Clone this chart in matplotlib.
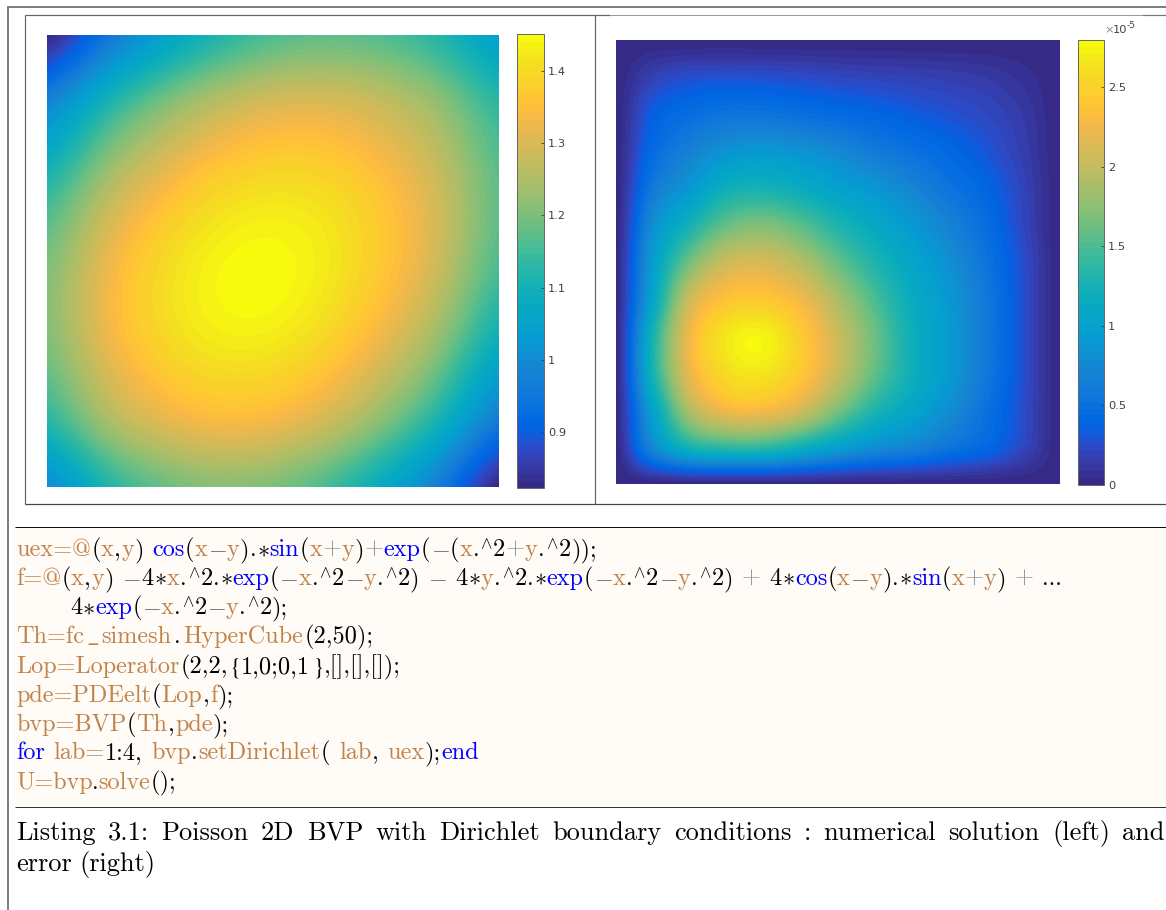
import warnings
import numpy as np
import matplotlib
matplotlib.use("Agg")
import matplotlib.pyplot as plt
from matplotlib.colors import ListedColormap, Normalize
from matplotlib.patches import Rectangle

warnings.filterwarnings("ignore")

# ---- values ------------------------------------------------------------
# numerical solution, rows bottom -> top, columns left -> right
solution = [
    [1.000, 1.108, 1.179, 1.210, 1.200, 1.151, 1.069, 0.957, 0.823],
    [1.108, 1.217, 1.288, 1.320, 1.311, 1.264, 1.183, 1.074, 0.941],
    [1.179, 1.288, 1.362, 1.397, 1.392, 1.350, 1.274, 1.169, 1.040],
    [1.210, 1.320, 1.397, 1.436, 1.438, 1.403, 1.335, 1.237, 1.115],
    [1.200, 1.311, 1.392, 1.438, 1.448, 1.422, 1.363, 1.275, 1.162],
    [1.151, 1.264, 1.350, 1.403, 1.422, 1.407, 1.359, 1.281, 1.178],
    [1.069, 1.183, 1.274, 1.335, 1.363, 1.359, 1.322, 1.256, 1.163],
    [0.957, 1.074, 1.169, 1.237, 1.275, 1.281, 1.256, 1.200, 1.118],
    [0.823, 0.941, 1.040, 1.115, 1.162, 1.178, 1.163, 1.118, 1.045],
]
# error (x 1e-5), rows bottom -> top, columns left -> right
error = [
    [0, 0, 0, 0, 0, 0, 0, 0, 0, 0, 0, 0, 0],
    [0, 0.75, 1.25, 1.38, 1.38, 1.20, 0.98, 0.80, 0.70, 0.55, 0.42, 0.22, 0],
    [0, 1.00, 1.90, 2.25, 2.28, 2.08, 1.68, 1.30, 1.05, 0.80, 0.52, 0.25, 0],
    [0, 1.25, 2.20, 2.58, 2.64, 2.42, 2.02, 1.58, 1.20, 0.92, 0.60, 0.27, 0],
    [0, 1.25, 2.25, 2.66, 2.74, 2.45, 2.05, 1.62, 1.20, 0.92, 0.60, 0.27, 0],
    [0, 1.05, 2.05, 2.38, 2.42, 2.25, 1.88, 1.50, 1.15, 0.90, 0.60, 0.27, 0],
    [0, 0.95, 1.65, 2.05, 2.10, 1.92, 1.60, 1.30, 1.05, 0.82, 0.55, 0.26, 0],
    [0, 0.80, 1.25, 1.60, 1.70, 1.55, 1.30, 1.10, 0.90, 0.70, 0.48, 0.22, 0],
    [0, 0.60, 0.90, 1.20, 1.25, 1.15, 1.00, 0.88, 0.72, 0.55, 0.40, 0.20, 0],
    [0, 0.45, 0.68, 0.85, 0.90, 0.85, 0.75, 0.62, 0.52, 0.42, 0.30, 0.16, 0],
    [0, 0.35, 0.48, 0.55, 0.55, 0.50, 0.45, 0.40, 0.34, 0.28, 0.22, 0.13, 0],
    [0, 0.18, 0.26, 0.28, 0.27, 0.25, 0.22, 0.20, 0.18, 0.16, 0.13, 0.07, 0],
    [0, 0, 0, 0, 0, 0, 0, 0, 0, 0, 0, 0, 0],
]
solution_range = (0.8224, 1.4512)
error_range = (0.0, 2.796)
solution_ticks = [0.9, 1.0, 1.1, 1.2, 1.3, 1.4]
solution_labels = ["0.9", "1", "1.1", "1.2", "1.3", "1.4"]
error_ticks = [0, 0.5, 1.0, 1.5, 2.0, 2.5]
error_labels = ["0", "0.5", "1", "1.5", "2", "2.5"]

PARULA = [
    [0.2081,0.1663,0.5292],[0.2116,0.1898,0.5777],[0.2123,0.2138,0.6270],[0.2081,0.2386,0.6771],
    [0.1959,0.2645,0.7279],[0.1707,0.2919,0.7792],[0.1253,0.3242,0.8303],[0.0591,0.3598,0.8683],
    [0.0117,0.3875,0.8820],[0.0060,0.4086,0.8828],[0.0165,0.4266,0.8786],[0.0329,0.4430,0.8720],
    [0.0498,0.4586,0.8641],[0.0629,0.4737,0.8554],[0.0723,0.4887,0.8467],[0.0779,0.5040,0.8384],
    [0.0793,0.5200,0.8312],[0.0749,0.5375,0.8263],[0.0641,0.5570,0.8240],[0.0488,0.5772,0.8228],
    [0.0343,0.5966,0.8199],[0.0265,0.6137,0.8135],[0.0239,0.6287,0.8038],[0.0231,0.6418,0.7913],
    [0.0228,0.6535,0.7768],[0.0267,0.6642,0.7607],[0.0384,0.6743,0.7436],[0.0590,0.6838,0.7254],
    [0.0843,0.6928,0.7062],[0.1133,0.7015,0.6859],[0.1453,0.7098,0.6646],[0.1801,0.7177,0.6424],
    [0.2178,0.7250,0.6193],[0.2586,0.7317,0.5954],[0.3022,0.7376,0.5712],[0.3482,0.7424,0.5473],
    [0.3953,0.7459,0.5244],[0.4420,0.7481,0.5033],[0.4871,0.7491,0.4840],[0.5300,0.7491,0.4661],
    [0.5709,0.7485,0.4494],[0.6099,0.7473,0.4337],[0.6473,0.7456,0.4188],[0.6834,0.7435,0.4044],
    [0.7184,0.7411,0.3905],[0.7525,0.7384,0.3768],[0.7858,0.7356,0.3633],[0.8185,0.7327,0.3498],
    [0.8507,0.7299,0.3360],[0.8824,0.7274,0.3217],[0.9139,0.7258,0.3063],[0.9450,0.7261,0.2886],
    [0.9739,0.7314,0.2666],[0.9938,0.7455,0.2403],[0.9990,0.7653,0.2164],[0.9955,0.7861,0.1967],
    [0.9880,0.8066,0.1794],[0.9789,0.8271,0.1633],[0.9697,0.8481,0.1475],[0.9626,0.8705,0.1309],
    [0.9589,0.8949,0.1132],[0.9598,0.9218,0.0948],[0.9661,0.9514,0.0755],[0.9763,0.9831,0.0538],
]
parula = ListedColormap(PARULA, name="parula")

# Listing text: (colour key, text); None key = blank of the given width
BR, BL, K, G, D = "#C1834A", "#0000FF", "#000000", "#999999", "#555555"
MINUS = r"$-$"; AST = r"$\ast$"; HAT = r"$^{\wedge}$"; US = r"$\_$"
LB = r"$\{$"; RB = r"$\}$"
SP = (None, 8)

def xy(c=BR):
    return [(c, "x"), (K, ","), (c, "y")]

def pw(v):
    return [(BR, v), (K, "."), (K, HAT), (K, "2")]

code_lines = [
    (16, 597, 556, [(BR, "uex=@"), (K, "(")] + xy() + [(K, ")"), SP, (BL, "cos"), (K, "("), (BR, "x"), (D, MINUS), (BR, "y"), (K, ")"),
     (K, "."), (K, AST), (BL, "sin"), (K, "("), (BR, "x"), (G, "+"), (BR, "y"), (K, ")"), (G, "+"), (BL, "exp"), (K, "("), (D, MINUS), (K, "(")]
     + pw("x") + [(G, "+")] + pw("y") + [(K, "));")]),
    (16, 1062, 585, [(BR, "f=@"), (K, "(")] + xy() + [(K, ")"), SP, (D, MINUS), (K, "4"), (K, AST)] + pw("x") + [(K, "."), (K, AST), (BL, "exp"), (K, "("), (D, MINUS)]
     + pw("x") + [(D, MINUS)] + pw("y") + [(K, ")"), SP, (D, MINUS), SP, (K, "4"), (K, AST)] + pw("y") + [(K, "."), (K, AST), (BL, "exp"), (K, "("), (D, MINUS)]
     + pw("x") + [(D, MINUS)] + pw("y") + [(K, ")"), SP, (G, "+"), SP, (K, "4"), (K, AST), (BL, "cos"), (K, "("), (BR, "x"), (D, MINUS), (BR, "y"), (K, ")"), (K, "."), (K, AST),
     (BL, "sin"), (K, "("), (BR, "x"), (G, "+"), (BR, "y"), (K, ")"), SP, (G, "+"), SP, (K, "...")]),
    (70, 288, 614, [(K, "4"), (K, AST), (BL, "exp"), (K, "("), (D, MINUS)] + pw("x") + [(D, MINUS)] + pw("y") + [(K, ");")]),
    (16, 374, 643, [(BR, "Th=fc"), (BR, US), (BR, "simesh"), (K, "."), (BR, "HyperCube"), (K, "(2,50);")]),
    (16, 401, 673, [(BR, "Lop=Loperator"), (K, "(2,2,"), (K, LB), (K, "1,0;0,1"), (K, RB), (K, ",[],[],[]);")]),
    (16, 234, 702, [(BR, "pde=PDEelt"), (K, "("), (BR, "Lop"), (K, ","), (BR, "f"), (K, ");")]),
    (16, 229, 731, [(BR, "bvp=BVP"), (K, "("), (BR, "Th"), (K, ","), (BR, "pde"), (K, ");")]),
    (16, 479, 759, [(BL, "for"), SP, (BR, "lab="), (K, "1:4,"), SP, (BR, "bvp"), (K, "."), (BR, "setDirichlet"), (K, "("), SP, (BR, "lab"), (K, ","), SP, (BR, "uex"), (K, ");"), (BL, "end")]),
    (16, 176, 789, [(BR, "U=bvp"), (K, "."), (BR, "solve"), (K, "();")]),
]
caption_lines = [
    (16, 1165, 840, ["Listing", "3.1:", "Poisson", "2D", "BVP", "with", "Dirichlet", "boundary",
                     "conditions", ":", "numerical", "solution", "(left)", "and"]),
    (16, 155, 871, ["error", "(right)"]),
]

# ---- figure ---------------------------------------------------------------
W, H = 1166, 910
fig = plt.figure(figsize=(W / 100, H / 100), dpi=100, facecolor="white")
bg = fig.add_axes([0, 0, 1, 1])
bg.set_xlim(0, W); bg.set_ylim(H, 0); bg.axis("off")


def ax_px(x0, y0, x1, y1):
    return fig.add_axes([x0 / W, 1 - y1 / H, (x1 - x0) / W, (y1 - y0) / H])


def line(x0, y0, x1, y1, c, px=1.0):
    bg.plot([x0, x1], [y0, y1], color=c, lw=px * 0.72, solid_capstyle="butt", clip_on=False)


# frames
line(7.5, 6, 7.5, H, "#808080", 2)
line(7, 6.5, W, 6.5, "#808080", 2)
line(25, 15, 25, 504, "#666666", 1.2)
line(25, 15, 610, 15, "#666666", 1.2)
line(610, 15, 1142, 15, "#999999", 1)
line(1142, 15, W, 15, "#777777", 1.2)
line(25, 504, W, 504, "#444444", 1.2)
line(595, 15, 595, 504, "#666666", 1.2)
line(1165.5, 15, 1165.5, 504, "#AAAAAA", 1)
# listing block
bg.add_patch(Rectangle((15, 527), W - 15, 279, fc="#FFFBF7", ec="none"))
line(15, 526.5, W, 526.5, "#111111", 1)
line(15, 806.5, W, 806.5, "#333333", 1)


def heat(values, rng, box, cbox, ticks, labels, interp):
    data = np.asarray(values, dtype=float)
    ny, nx = data.shape
    dx, dy = 1 / (nx - 1), 1 / (ny - 1)
    ax = ax_px(*box)
    im = ax.imshow(data, origin="lower", cmap=parula, norm=Normalize(*rng), aspect="auto",
                   extent=(-dx / 2, 1 + dx / 2, -dy / 2, 1 + dy / 2),
                   interpolation=interp, interpolation_stage="data")
    ax.set_xlim(0, 1); ax.set_ylim(0, 1); ax.axis("off")
    cax = ax_px(*cbox)
    cb = fig.colorbar(im, cax=cax, ticks=ticks)
    cb.ax.set_yticklabels(labels)
    cb.ax.tick_params(direction="in", length=2.5, width=0.6, color="#404040",
                      labelsize=8.2, labelcolor="#404040", pad=3)
    cb.ax.minorticks_off()
    cb.outline.set_edgecolor("#666666"); cb.outline.set_linewidth(0.7)


heat(solution, solution_range, (47, 35, 499, 487), (517, 34, 544, 488), solution_ticks, solution_labels, "spline36")
heat(error, error_range, (616, 40, 1060, 484), (1078, 40, 1104, 485), error_ticks, error_labels, "catrom")
bg.text(1104, 33, "\u00d7", fontsize=8.2, color="#8a8a8a", ha="left", va="baseline")
bg.text(1113, 33, "10", fontsize=8.2, color="#404040", ha="left", va="baseline")
bg.text(1127, 28, "-5", fontsize=6.5, color="#404040", ha="left", va="baseline")

renderer = fig.canvas.get_renderer()


def flow(x0, x1, y, tokens, size):
    """Place coloured tokens on a baseline, justified between x0 and x1."""
    items, natural = [], 0.0
    for c, s in tokens:
        if c is None:
            items.append((None, s)); natural += s
            continue
        mf = "stix" if s in (LB, RB) else "cm"
        t = bg.text(0, y, s, color=c, fontsize=size, ha="left", va="baseline",
                    family="cmr10", math_fontfamily=mf)
        w = t.get_window_extent(renderer).width
        items.append((t, w)); natural += w
    gap = (x1 - x0 - natural) / max(len(items) - 1, 1)
    x = x0
    for t, w in items:
        if t is not None:
            t.set_x(x)
        x += w + gap


for x0, x1, y, toks in code_lines:
    flow(x0, x1, y, toks, 17.5)
for x0, x1, y, words in caption_lines:
    flow(x0, x1, y, [(K, w) for w in words], 19)

fig.savefig("out.png", dpi=100)
